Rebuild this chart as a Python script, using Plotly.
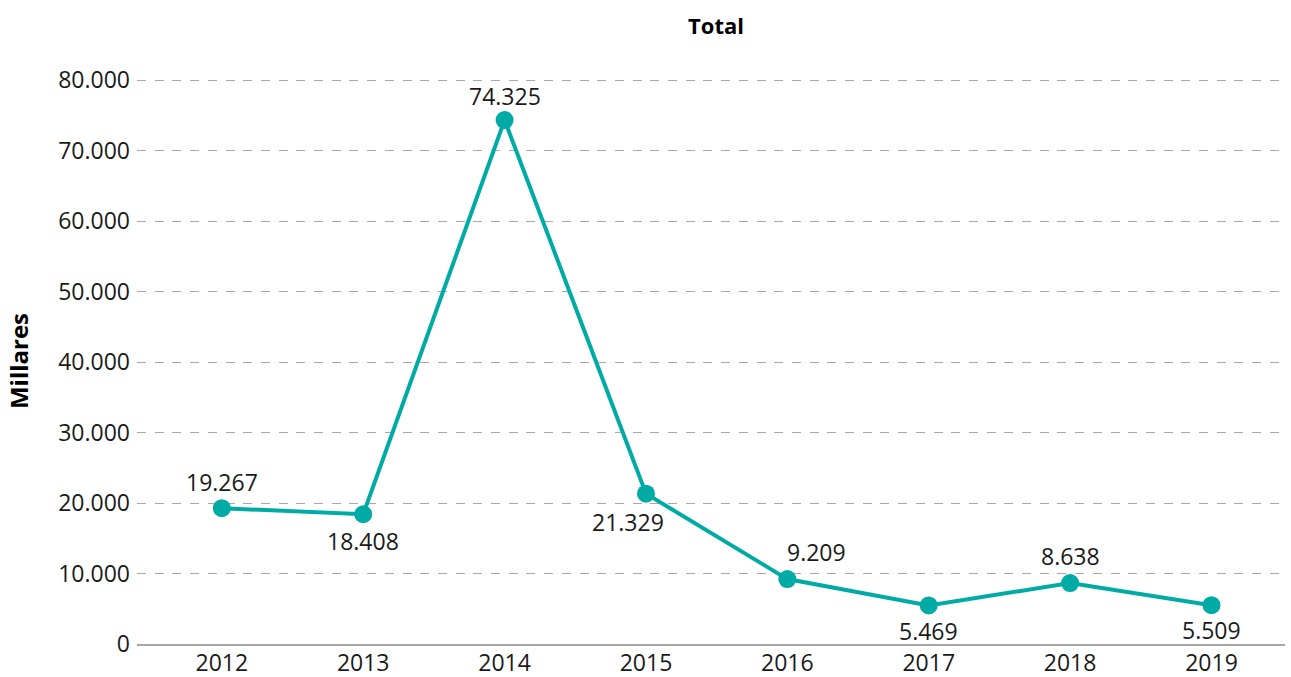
import plotly.graph_objects as go

years = ["2012", "2013", "2014", "2015", "2016", "2017", "2018", "2019"]
values = [19267, 18408, 74325, 21329, 9209, 5469, 8638, 5509]
label_shift_x = [0, 0, 0, -18, 29, 0, 0, 0]
label_shift_y = [26, -27, 24, -28, 27, -26, 27, -25]

TEAL = "#00AAA5"
FONT = "Open Sans"

fig = go.Figure()
fig.add_trace(go.Scatter(
    x=years, y=values, mode="lines+markers",
    line=dict(color=TEAL, width=4),
    marker=dict(color=TEAL, size=18),
    hoverinfo="skip", showlegend=False,
))

def fmt(v):
    return f"{v:,}".replace(",", ".")

for i, (yv, dx, dy) in enumerate(zip(values, label_shift_x, label_shift_y)):
    fig.add_annotation(x=i, y=yv, text=fmt(yv), showarrow=False,
                       xshift=dx, yshift=dy,
                       font=dict(family=FONT, size=23, color="#1a1a1a"))

fig.update_layout(
    width=1291, height=677,
    margin=dict(l=137, r=6, t=78, b=33, autoexpand=False),
    paper_bgcolor="white", plot_bgcolor="white",
    separators=",.",
    font=dict(family=FONT, size=23, color="#1a1a1a"),
    title=dict(text="<b>Total</b>", x=0.5546, xref="container", xanchor="center",
               y=0.9616, yref="container", yanchor="middle",
               font=dict(family=FONT, size=22, color="#000000")),
    xaxis=dict(type="category", range=[-0.6, 7.52], showgrid=False,
               showline=True, linecolor="#a6a6a6", linewidth=1.5,
               ticks="", tickfont=dict(size=23), zeroline=False, automargin=False,
               ticklabelstandoff=-2),
    yaxis=dict(range=[0, 80300], dtick=10000, tickformat=",d",
               showgrid=True, gridcolor="#a8a8a8", griddash="9px,8.7px", gridwidth=1.3,
               zeroline=False, showline=False, ticks="", automargin=False,
               ticklabelstandoff=6, tickfont=dict(size=23),
               title=dict(text="<b>Millares</b>", standoff=22,
                          font=dict(family=FONT, size=24, color="#000000"))),
)

fig.write_html("out.html", config={"displayModeBar": False},
               post_script="document.body.style.margin='0';document.body.style.overflow='hidden';")
